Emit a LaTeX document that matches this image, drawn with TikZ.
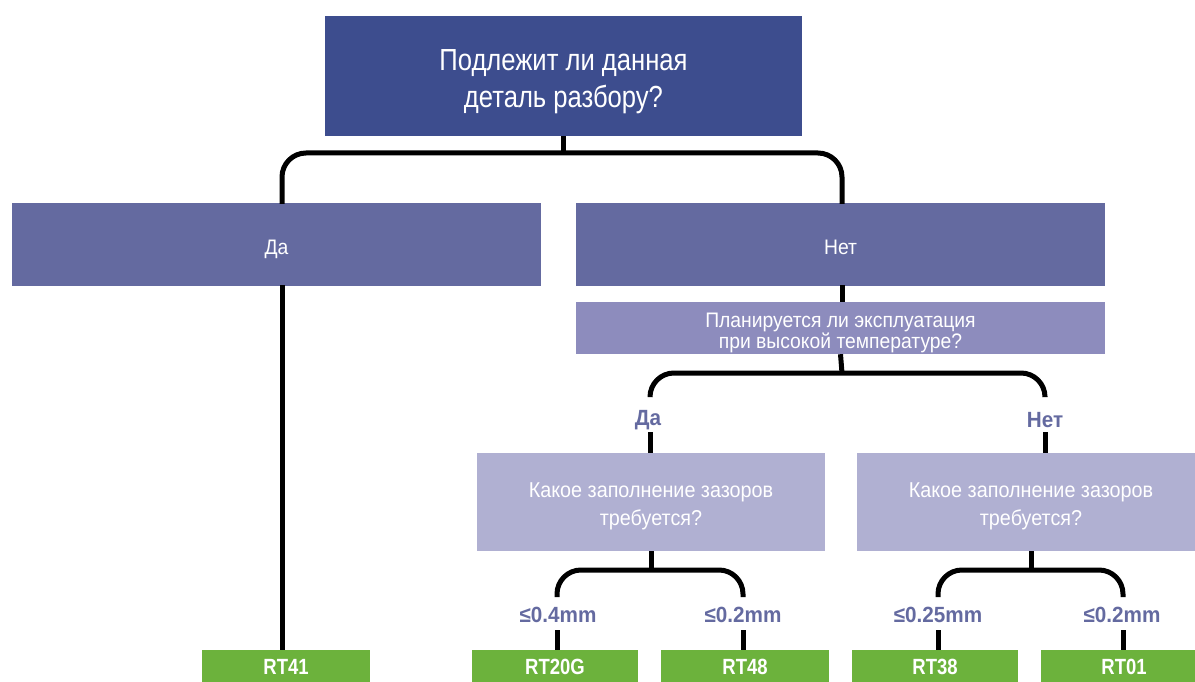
\documentclass[tikz,border=0pt]{standalone}
\usepackage{fontspec}
\setmainfont[FakeStretch=0.84]{Liberation Sans}
\newfontfamily\midfont[FakeStretch=0.92]{Liberation Sans}
\newfontfamily\labfont[FakeStretch=0.94]{Liberation Sans}
\definecolor{topc}{RGB}{61,77,142}
\definecolor{midc}{RGB}{100,106,160}
\definecolor{qc}{RGB}{141,140,189}
\definecolor{lc}{RGB}{176,176,210}
\definecolor{greenc}{RGB}{108,178,60}
\definecolor{labc}{RGB}{100,106,160}
\begin{document}
\begin{tikzpicture}[x=1pt,y=-1pt,
  box/.style={rectangle, inner sep=0pt, text=white, align=center},
  leaf/.style={box, fill=greenc, minimum height=34pt, font=\fontsize{22}{24}\selectfont\bfseries},
  conn/.style={line width=5pt, black, rounded corners=24pt},
  lab/.style={inner sep=0pt, text=labc, font=\labfont\fontsize{22}{24}\selectfont\bfseries}]
\useasboundingbox (0,0) rectangle (1195,682);
% boxes
\node[box, fill=topc, minimum width=477pt, minimum height=120pt, font=\fontsize{30.5}{37}\selectfont] (top) at (563.5,76) {\rule{0pt}{32pt}Подлежит ли данная\\деталь разбору?};
\node[box, fill=midc, minimum width=529pt, minimum height=83pt, text height=20pt, text depth=0pt, font=\midfont\fontsize{21}{24}\selectfont] (da) at (276.5,244.5) {Да};
\node[box, fill=midc, minimum width=529pt, minimum height=83pt, text height=20pt, text depth=0pt, font=\midfont\fontsize{21}{24}\selectfont] (net) at (840.5,244.5) {Нет};
\node[box, fill=qc, minimum width=529pt, minimum height=52pt, font=\midfont\fontsize{21}{19.5}\selectfont] (q) at (840.5,328) {\rule{0pt}{24pt}Планируется ли эксплуатация\\при высокой температуре?};
\node[box, fill=lc, minimum width=348pt, minimum height=98pt, font=\midfont\fontsize{21.5}{28}\selectfont] (g1) at (651,502) {\rule{0pt}{24pt}Какое заполнение зазоров\\требуется?};
\node[box, fill=lc, minimum width=348pt, minimum height=98pt, font=\midfont\fontsize{21.5}{28}\selectfont] (g2) at (1031,502) {\rule{0pt}{24pt}Какое заполнение зазоров\\требуется?};
% leaves
\node[leaf, minimum width=168pt] (rt41) at (286,667) {RT41};
\node[leaf, minimum width=166pt] (rt20) at (555,667) {RT20G};
\node[leaf, minimum width=168pt] (rt48) at (745,667) {RT48};
\node[leaf, minimum width=166pt] (rt38) at (935,667) {RT38};
\node[leaf, minimum width=166pt] (rt01) at (1124,667) {RT01};
% labels
\node[lab] (lda) at (648,420) {Да};
\node[lab] (lnet) at (1045,420) {Нет};
\node[lab] (l04) at (558,615) {≤0.4mm};
\node[lab] (l02a) at (743,615) {≤0.2mm};
\node[lab] (l025) at (938,615) {≤0.25mm};
\node[lab] (l02b) at (1122,615) {≤0.2mm};
% coordinates
\coordinate (j1) at (563.5,153);
\coordinate (c1l) at (282,153);
\coordinate (c1r) at (842,153);
\coordinate (daIn) at (282,204);
\coordinate (netIn) at (842,204);
\coordinate (daOut) at (282,285);
\coordinate (netOut) at (842,285);
\coordinate (j2) at (842,373);
\coordinate (c2l) at (650,373);
\coordinate (c2r) at (1045,373);
\coordinate (e2l) at (650,396);
\coordinate (e2r) at (1045,396);
\coordinate (s2l) at (650,432);
\coordinate (s2r) at (1045,432);
\coordinate (j3) at (651,570);
\coordinate (c3l) at (557,570);
\coordinate (c3r) at (743,570);
\coordinate (e3l) at (557,597);
\coordinate (e3r) at (743,597);
\coordinate (s3l) at (557,630);
\coordinate (s3r) at (743,630);
\coordinate (j4) at (1031,570);
\coordinate (c4l) at (938,570);
\coordinate (c4r) at (1123,570);
\coordinate (e4l) at (938,597);
\coordinate (e4r) at (1123,597);
\coordinate (s4l) at (938,630);
\coordinate (s4r) at (1123,630);
% connectors
\draw[conn] (top.south) -- (j1);
\draw[conn] (daIn) -- (c1l) -- (c1r) -- (netIn);
\draw[conn] (daOut) -- (daOut |- rt41.north);
\draw[conn] (netOut) -- (netOut |- q.north);
\draw[conn] (q.south) -- (j2);
\draw[conn] (e2l) -- (c2l) -- (c2r) -- (e2r);
\draw[conn] (s2l) -- (s2l |- g1.north);
\draw[conn] (s2r) -- (s2r |- g2.north);
\draw[conn] (g1.south) -- (j3);
\draw[conn] (e3l) -- (c3l) -- (c3r) -- (e3r);
\draw[conn] (s3l) -- (s3l |- rt20.north);
\draw[conn] (s3r) -- (s3r |- rt48.north);
\draw[conn] (g2.south) -- (j4);
\draw[conn] (e4l) -- (c4l) -- (c4r) -- (e4r);
\draw[conn] (s4l) -- (s4l |- rt38.north);
\draw[conn] (s4r) -- (s4r |- rt01.north);
\end{tikzpicture}
\end{document}
